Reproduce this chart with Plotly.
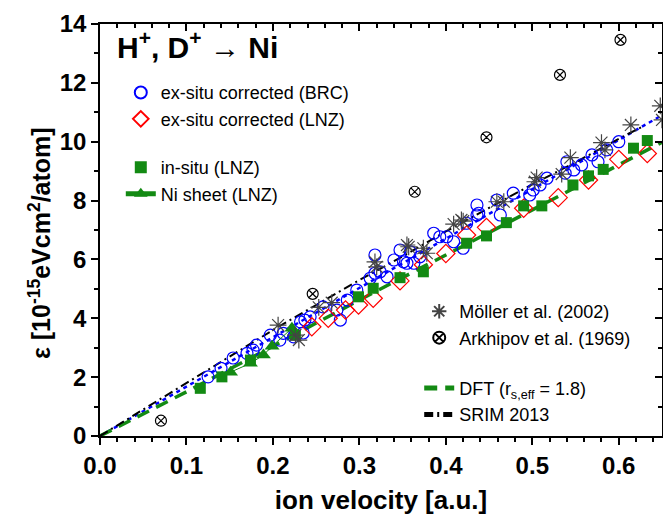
import plotly.graph_objects as go

# ---------------- data ----------------
brc_v = [0.125, 0.14, 0.154, 0.17, 0.177, 0.181, 0.197, 0.208, 0.212, 0.224, 0.235, 0.232, 0.243,
         0.237, 0.258, 0.274, 0.278, 0.286, 0.297, 0.3125, 0.318, 0.324, 0.332, 0.318, 0.34, 0.347,
         0.351, 0.355, 0.359, 0.363, 0.37, 0.386, 0.393, 0.401, 0.409, 0.42, 0.424, 0.436, 0.438,
         0.436, 0.459, 0.463, 0.478, 0.497, 0.501, 0.509, 0.517, 0.538, 0.54, 0.548, 0.557, 0.569,
         0.576, 0.586, 0.6]
brc_e = [2.01, 2.3, 2.65, 2.81, 2.92, 3.09, 3.43, 3.26, 3.49, 3.37, 3.5, 3.88, 4.05,
         3.94, 4.39, 4.28, 3.94, 4.62, 4.96, 5.36, 5.53, 5.58, 5.41, 6.15, 5.98, 6.32,
         5.92, 5.87, 6.26, 5.87, 6.09, 6.89, 6.77, 6.77, 6.6, 6.38, 7.23, 7.51, 7.57,
         7.85, 8.02, 7.51, 8.25, 8.19, 8.36, 8.53, 8.76, 8.93, 9.32, 9.04, 9.21, 9.55,
         9.32, 9.72, 10.0]

lnz_v = [0.245, 0.264, 0.284, 0.299, 0.316, 0.347, 0.374, 0.4, 0.424, 0.447, 0.49, 0.53, 0.565, 0.6, 0.633]
lnz_e = [3.71, 4.0, 4.28, 4.45, 4.68, 5.27, 5.82, 6.2, 6.83, 7.09, 7.74, 8.1, 8.7, 9.4, 9.6]

insitu_v = [0.116, 0.141, 0.174, 0.226, 0.299, 0.316, 0.347, 0.374, 0.424, 0.447, 0.47, 0.49,
            0.511, 0.547, 0.565, 0.582, 0.617, 0.633]
insitu_e = [1.62, 2.01, 2.58, 3.43, 4.73, 5.02, 5.38, 5.58, 6.55, 6.8, 7.25, 7.82,
            7.82, 8.53, 8.84, 9.06, 9.78, 10.04]

sheet_v = [0.151, 0.174, 0.189, 0.199, 0.222]
sheet_e = [2.17, 2.47, 2.75, 3.05, 3.66]

moller_v = [0.206, 0.226, 0.23, 0.253, 0.268, 0.318, 0.32, 0.357, 0.355, 0.374, 0.378, 0.409,
            0.418, 0.42, 0.459, 0.467, 0.503, 0.505, 0.534, 0.544, 0.58, 0.584, 0.614, 0.648, 0.65]
moller_e = [3.77, 3.43, 3.26, 4.37, 4.53, 5.92, 5.75, 6.43, 6.49, 6.38, 6.21, 7.2,
            7.34, 7.3, 7.96, 7.96, 8.64, 8.78, 8.9, 9.46, 9.97, 9.72, 10.57, 11.22, 10.74]

arkh_v = [0.0705, 0.246, 0.364, 0.447, 0.532, 0.602]
arkh_e = [0.52, 4.83, 8.3, 10.15, 12.27, 13.46]

dft_v = [0.0, 0.1, 0.2, 0.3, 0.4, 0.5, 0.6, 0.65]
dft_e = [0.0, 1.5, 3.05, 4.62, 6.15, 7.68, 9.2, 9.98]

srim_v = [0.0, 0.05, 0.1, 0.15, 0.2, 0.25, 0.3, 0.35, 0.4, 0.45, 0.5, 0.55, 0.6, 0.63]
srim_e = [0.0, 0.9, 1.8, 2.7, 3.6, 4.45, 5.3, 6.1, 6.95, 7.75, 8.55, 9.3, 10.1, 10.55]

fit_v = [0.0, 0.2, 0.4, 0.65]
fit_e = [0.0, 3.36, 6.72, 10.9]

x_ticks = [0.0, 0.1, 0.2, 0.3, 0.4, 0.5, 0.6]
y_ticks = [0, 2, 4, 6, 8, 10, 12, 14]

FONT = "Liberation Sans, Arial, sans-serif"
GREEN = "#138a13"

fig = go.Figure()

# lines
fig.add_trace(go.Scatter(x=fit_v, y=fit_e, mode="lines", showlegend=False,
                         line=dict(color="#0000ff", width=2.5, dash="4px,4px")))
fig.add_trace(go.Scatter(x=dft_v, y=dft_e, mode="lines", name="DFT (r<sub>s,eff</sub> = 1.8)",
                         legend="legend2", legendgroup="g4", legendrank=3,
                         line=dict(color=GREEN, width=3.5, dash="13px,8px")))
fig.add_trace(go.Scatter(x=srim_v, y=srim_e, mode="lines", name="SRIM 2013",
                         legend="legend2", legendgroup="g4", legendrank=4,
                         line=dict(color="black", width=2, dash="9px,4px,2px,4px")))

# markers
fig.add_trace(go.Scatter(x=brc_v, y=brc_e, mode="markers", name="ex-situ corrected (BRC)",
                         legend="legend", legendgroup="g1", legendrank=1,
                         marker=dict(symbol="circle-open", size=12, color="#0000ff", line=dict(width=1.2))))
fig.add_trace(go.Scatter(x=lnz_v, y=lnz_e, mode="markers", name="ex-situ corrected (LNZ)",
                         legend="legend", legendgroup="g1", legendrank=2,
                         marker=dict(symbol="diamond-open", size=14, color="#ff0000", line=dict(width=1.2))))
fig.add_trace(go.Scatter(x=insitu_v, y=insitu_e, mode="markers", name="in-situ (LNZ)",
                         legend="legend", legendgroup="g2", legendrank=3,
                         marker=dict(symbol="square", size=11, color=GREEN)))
fig.add_trace(go.Scatter(x=sheet_v, y=sheet_e, mode="lines+markers", name="Ni sheet (LNZ)",
                         legend="legend", legendgroup="g2", legendrank=4,
                         line=dict(color=GREEN, width=1),
                         marker=dict(symbol="triangle-up", size=13, color=GREEN)))
fig.add_trace(go.Scatter(x=moller_v, y=moller_e, mode="markers", name="Möller et al. (2002)",
                         legend="legend2", legendgroup="g3", legendrank=1,
                         marker=dict(symbol="asterisk-open", size=14, color="#444444",
                                     line=dict(width=1.2, color="#444444"))))
fig.add_trace(go.Scatter(x=arkh_v, y=arkh_e, mode="markers", name="Arkhipov et al. (1969)",
                         legend="legend2", legendgroup="g3", legendrank=2,
                         marker=dict(symbol="circle-x-open", size=11, color="black",
                                     line=dict(width=1.2, color="black"))))

# dummy trace for mirror axes
fig.add_trace(go.Scatter(x=[None], y=[None], xaxis="x2", yaxis="y2", showlegend=False, hoverinfo="skip"))

axis_common = dict(showgrid=False, zeroline=False, showline=True, linecolor="black", linewidth=1.5,
                   tickcolor="black", tickwidth=1.5, automargin=False)

fig.update_layout(
    width=663, height=511,
    margin=dict(l=92, r=9, t=16, b=83, autoexpand=False),
    paper_bgcolor="white", plot_bgcolor="white",
    font=dict(family=FONT, color="black"),
    xaxis=dict(range=[0, 0.65], tickvals=x_ticks, ticktext=[f"{v:.1f}" for v in x_ticks],
               ticks="outside", ticklen=7,
               minor=dict(dtick=0.02, ticklen=4, ticks="outside", tickcolor="black", tickwidth=1.5),
               tickfont=dict(size=24, weight="bold", family=FONT),
               title=dict(text="ion velocity [a.u.]", font=dict(size=26, weight="bold", family=FONT), standoff=13),
               **axis_common),
    yaxis=dict(range=[0, 14], tickvals=y_ticks, ticks="outside", ticklen=7,
               minor=dict(dtick=1, ticklen=4, ticks="outside", tickcolor="black", tickwidth=1.5),
               tickfont=dict(size=24, weight="bold", family=FONT),
               **axis_common),
    xaxis2=dict(range=[0, 0.65], overlaying="x", side="top", tickvals=x_ticks, showticklabels=False,
                ticks="inside", ticklen=7,
                minor=dict(dtick=0.02, ticklen=4, ticks="inside", tickcolor="black", tickwidth=1.5),
                **axis_common),
    yaxis2=dict(range=[0, 14], overlaying="y", side="right", tickvals=y_ticks, showticklabels=False,
                ticks="inside", ticklen=7,
                minor=dict(dtick=1, ticklen=4, ticks="inside", tickcolor="black", tickwidth=1.5),
                **axis_common),
    legend=dict(x=0.037, y=0.878, xanchor="left", yanchor="top", bgcolor="rgba(0,0,0,0)",
                font=dict(size=18, family=FONT), traceorder="grouped", tracegroupgap=22,
                itemsizing="constant"),
    legend2=dict(x=0.568, y=0.347, xanchor="left", yanchor="top", bgcolor="rgba(0,0,0,0)",
                 font=dict(size=18, family=FONT), traceorder="grouped", tracegroupgap=24,
                 itemsizing="constant"),
    annotations=[
        dict(text="H<sup>+</sup>, D<sup>+</sup> → Ni", xref="paper", yref="paper",
             x=0.026, y=0.95, xanchor="left", yanchor="middle", showarrow=False,
             font=dict(size=30, weight="bold", family=FONT)),
        dict(text="ε [10<sup>-15</sup>eVcm<sup>2</sup>/atom]", xref="paper", yref="paper",
             x=-0.107, y=0.468, xanchor="center", yanchor="middle", textangle=-90, showarrow=False,
             font=dict(size=25, weight="bold", family=FONT)),
    ],
)

fig.write_html("out.html")
